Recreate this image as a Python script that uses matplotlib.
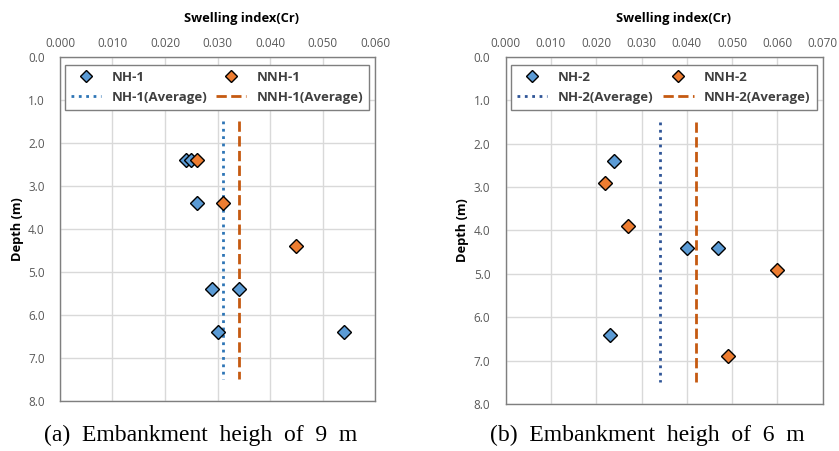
import matplotlib
matplotlib.use('Agg')
import matplotlib.pyplot as plt

plt.rcParams['font.family'] = ['Open Sans', 'DejaVu Sans']

# (a) embankment height 9 m
nh1_cr = [0.024, 0.025, 0.026, 0.029, 0.034, 0.030, 0.054]
nh1_depth = [2.4, 2.4, 3.4, 5.4, 5.4, 6.4, 6.4]
nnh1_cr = [0.026, 0.031, 0.045]
nnh1_depth = [2.4, 3.4, 4.4]
nh1_avg = 0.031
nnh1_avg = 0.034

# (b) embankment height 6 m
nh2_cr = [0.024, 0.040, 0.047, 0.023]
nh2_depth = [2.4, 4.4, 4.4, 6.4]
nnh2_cr = [0.022, 0.027, 0.060, 0.049]
nnh2_depth = [2.9, 3.9, 4.9, 6.9]
nh2_avg = 0.034
nnh2_avg = 0.042

avg_span = [1.5, 7.5]

blue = '#5B9BD5'
orange = '#ED7D31'
tick_color = '#595959'


def draw_panel(ax, name_a, xa, ya, avg_a, name_b, xb, yb, avg_b,
               xmax, avg_blue, title_x):
    h1, = ax.plot(xa, ya, 'D', ms=7.5, mfc=blue, mec='black', mew=1.0,
                  label=name_a, zorder=4)
    h2, = ax.plot(xb, yb, 'D', ms=7.5, mfc=orange, mec='black', mew=1.0,
                  label=name_b, zorder=4)
    h3, = ax.plot([avg_a, avg_a], avg_span, ':', color=avg_blue, lw=2,
                  label=name_a + '(Average)', zorder=3)
    h4, = ax.plot([avg_b, avg_b], avg_span, '--', color='#C55A11', lw=2,
                  label=name_b + '(Average)', zorder=3)

    ax.set_xlim(0, xmax)
    ax.set_ylim(8.0, 0.0)
    ax.set_xticks([i * 0.01 for i in range(int(round(xmax / 0.01)) + 1)])
    ax.set_yticks(range(0, 9))
    ax.xaxis.set_major_formatter(matplotlib.ticker.FormatStrFormatter('%.3f'))
    ax.yaxis.set_major_formatter(matplotlib.ticker.FormatStrFormatter('%.1f'))
    ax.xaxis.tick_top()
    ax.xaxis.set_label_position('top')
    ax.tick_params(length=0, labelsize=8.5, labelcolor=tick_color)
    ax.tick_params(axis='x', pad=5)
    ax.tick_params(axis='y', pad=11)
    ax.grid(True, color='#D9D9D9', lw=1)
    ax.set_axisbelow(True)
    for s in ax.spines.values():
        s.set_color('#7F7F7F')
        s.set_linewidth(1)
    ax.set_xlabel('Swelling index(Cr)', fontsize=9.3, fontweight='bold',
                  labelpad=11)
    ax.xaxis.label.set_x(title_x)
    ax.set_ylabel('Depth (m)', fontsize=9.3, fontweight='bold', labelpad=3)

    leg = ax.legend(handles=[h1, h3, h2, h4], ncol=2, loc='upper left',
                    bbox_to_anchor=(0.016, 0.849, 0.965, 0.128),
                    mode='expand', frameon=True, markerscale=0.75,
                    fancybox=False, edgecolor='#7F7F7F', framealpha=1,
                    handlelength=2.3, handletextpad=0.8, columnspacing=1.5,
                    borderpad=0.45, labelspacing=0.55, borderaxespad=0,
                    prop={'weight': 'bold', 'size': 9.5})
    leg.get_frame().set_linewidth(1)
    for t in leg.get_texts():
        t.set_color('#404040')


fig = plt.figure(figsize=(8.39, 4.51), dpi=100)
ax1 = fig.add_axes([0.0715, 0.111, 0.3755, 0.763])
ax2 = fig.add_axes([0.6027, 0.104, 0.3778, 0.770])

draw_panel(ax1, 'NH-1', nh1_cr, nh1_depth, nh1_avg,
           'NNH-1', nnh1_cr, nnh1_depth, nnh1_avg,
           0.060, '#2E75B6', 0.575)
draw_panel(ax2, 'NH-2', nh2_cr, nh2_depth, nh2_avg,
           'NNH-2', nnh2_cr, nnh2_depth, nnh2_avg,
           0.070, '#2F5597', 0.529)

fig.text(201 / 839, 1 - 435 / 451, '(a)  Embankment  heigh  of  9  m',
         ha='center', va='center', fontsize=17, family='Liberation Serif')
fig.text(647 / 839, 1 - 435 / 451, '(b)  Embankment  heigh  of  6  m',
         ha='center', va='center', fontsize=17, family='Liberation Serif')

fig.savefig('out.png', dpi=100)
